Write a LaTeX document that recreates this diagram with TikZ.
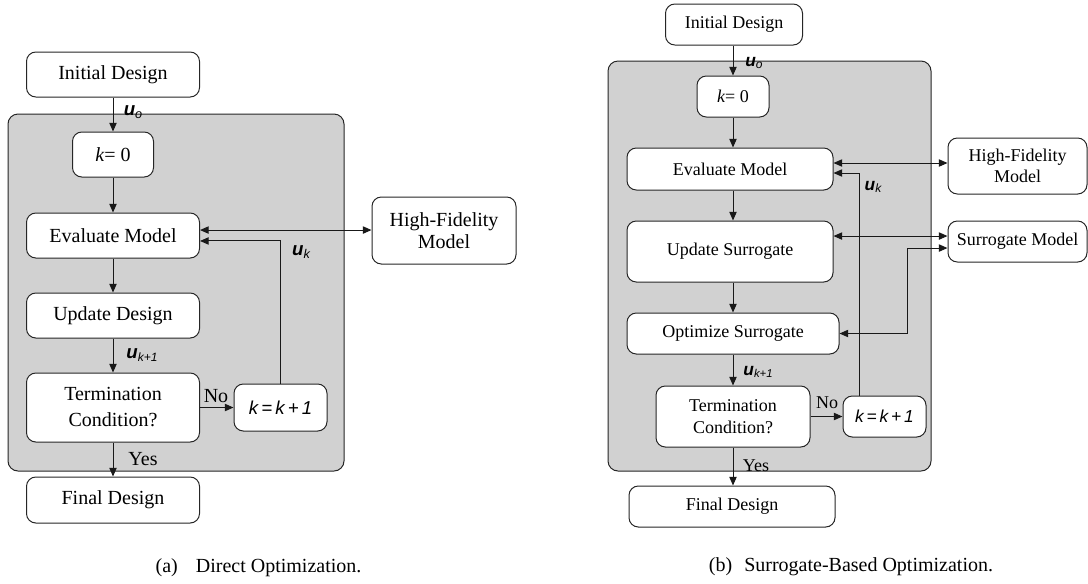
\documentclass[tikz,border=0pt]{standalone}
\usepackage{fontspec}
\setmainfont{Liberation Serif}
\newfontfamily\serf{Liberation Serif}
\newfontfamily\sansf{Liberation Sans}
\usetikzlibrary{arrows.meta,calc}
\newcommand\uvar[3]{{\sansf\fontsize{#1}{#1}\selectfont\bfseries\itshape u}\raisebox{-0.45ex}{\sansf\fontsize{#2}{#2}\selectfont\itshape #3}}
\begin{document}
\begin{tikzpicture}[x=0.75pt,y=-0.75pt,
  box/.style={draw=black!85, line width=0.75pt, rounded corners=7pt, fill=white, align=center, inner sep=0pt},
  sz/.style 2 args={minimum width=#1*0.75pt, minimum height=#2*0.75pt},
  Lf/.style={font=\serf\fontsize{15}{16.5}\selectfont},
  Rf/.style={font=\serf\fontsize{13.5}{16}\selectfont},
  arr/.style={-{Triangle[length=6.5pt,width=5.5pt]}, line width=0.75pt, draw=black!90},
  darr/.style={{Triangle[length=6.5pt,width=5.5pt]}-{Triangle[length=6.5pt,width=5.5pt]}, line width=0.75pt, draw=black!90},
  panel/.style={draw=black!85, line width=0.75pt, fill=black!18, rounded corners=7.5pt},
  lab/.style={inner sep=0pt}
]
\useasboundingbox (0,0) rectangle (1088,583);

% ---------------- (a) Direct Optimization ----------------
\path[panel] (8,114) rectangle (344,471);
\node[box,Lf,sz={173}{45}] (init) at (113,74.5) {Initial Design};
\node[box,Lf,sz={81}{45}] (k0) at (113,154.5) {{\itshape k}= 0};
\node[box,Lf,sz={173}{45}] (eval) at (113,235.5) {Evaluate Model};
\node[box,Lf,sz={144}{67}] (hf) at (444,230.5) {High-Fidelity\\Model};
\node[box,Lf,sz={173}{45}] (upd) at (113,315.5) {Update Design};
\node[box,sz={173}{69},font=\serf\fontsize{15}{19.5}\selectfont] (term) at (113,407.5) {Termination\\Condition?};
\node[box,sz={93}{47},font=\sansf\fontsize{14}{14}\selectfont\itshape] (kk) at (280.5,407.5) {k\,=\,k\,+\,1};
\node[box,Lf,sz={173}{46}] (final) at (113,500) {Final Design};

\draw[arr] (init) -- (k0);
\draw[arr] (k0) -- (eval);
\draw[arr] (eval) -- (upd);
\draw[arr] (upd) -- (term);
\draw[arr] (term) -- (final);
\draw[arr] (term.east) -- (kk.west);
\coordinate (ehf) at ([yshift=4.1pt]eval.east);
\draw[darr] (ehf) -- (ehf -| hf.west);
\draw[arr] (kk.north) |- ([yshift=-4.1pt]eval.east);

\node[lab] (la0) at (133,112) {\uvar{14}{9.5}{o}};
\node[lab] (lak) at (301,252) {\uvar{14}{9.5}{k}};
\node[lab] (lak1) at (142,355) {\uvar{14}{9}{k+1}};
\node[lab,Lf] (lano) at (216,396) {No};
\node[lab,Lf] (layes) at (143,459) {Yes};

% ---------------- (b) Surrogate-Based Optimization ----------------
\path[panel] (608,61) rectangle (931,471);
\node[box,Rf,sz={137}{41}] (init2) at (734,24.5) {Initial Design};
\node[box,Rf,sz={72}{41}] (k02) at (733,96.5) {{\itshape k}= 0};
\node[box,Rf,sz={206}{42}] (eval2) at (730,169) {Evaluate Model};
\node[box,Rf,sz={139}{56}] (hf2) at (1017.5,166) {High-Fidelity\\Model};
\node[box,Rf,sz={206}{61}] (upd2) at (730,251.5) {Update Surrogate};
\node[box,Rf,sz={139}{41}] (sm) at (1017.5,241.5) {Surrogate Model};
\node[box,Rf,sz={212}{41}] (opt2) at (733,333.5) {Optimize Surrogate};
\node[box,Rf,sz={154}{61}] (term2) at (733,416.5) {Termination\\Condition?};
\node[box,sz={83}{41},font=\sansf\fontsize{13}{13}\selectfont\itshape] (kk2) at (884.5,416.5) {k\,=\,k\,+\,1};
\node[box,Rf,sz={206}{41}] (final2) at (732,506.5) {Final Design};

\draw[arr] (init2.south -| k02) -- (k02);
\draw[arr] (k02) -- (k02 |- eval2.north);
\draw[arr] (eval2.south -| k02) -- (upd2.north -| k02);
\draw[arr] (upd2.south -| k02) -- (opt2);
\draw[arr] (opt2) -- (term2);
\draw[arr] (term2) -- (term2 |- final2.north);
\draw[arr] (term2.east) -- (kk2.west);
\coordinate (e2h) at ([yshift=4.5pt]eval2.east);
\draw[darr] (e2h) -- (e2h -| hf2.west);
\coordinate (u2s) at ([yshift=11.6pt]upd2.east);
\draw[darr] (u2s) -- (u2s -| sm.west);
\coordinate (os) at ([yshift=-4.9pt]sm.west);
\draw[darr] (opt2.east) -- ++(68,0) |- (os);
\draw[arr] ([xshift=-19.1pt]kk2.north) |- ([yshift=-3pt]eval2.east);

\node[lab] (lb0) at (754,63) {\uvar{13}{9}{o}};
\node[lab] (lbk) at (873,187) {\uvar{13}{9}{k}};
\node[lab] (lbk1) at (758,372) {\uvar{13}{8.5}{k+1}};
\node[lab,Rf] (lbno) at (827,403) {No};
\node[lab,Rf] (lbyes) at (756,466) {Yes};

% captions
\node[lab,font=\serf\fontsize{15}{17}\selectfont] (capa) at (258.5,568) {(a)\hspace{13.5pt}Direct Optimization.};
\node[lab,font=\serf\fontsize{15}{17}\selectfont] (capb) at (851,567) {(b)\hspace{9pt}Surrogate-Based Optimization.};
\end{tikzpicture}
\end{document}
